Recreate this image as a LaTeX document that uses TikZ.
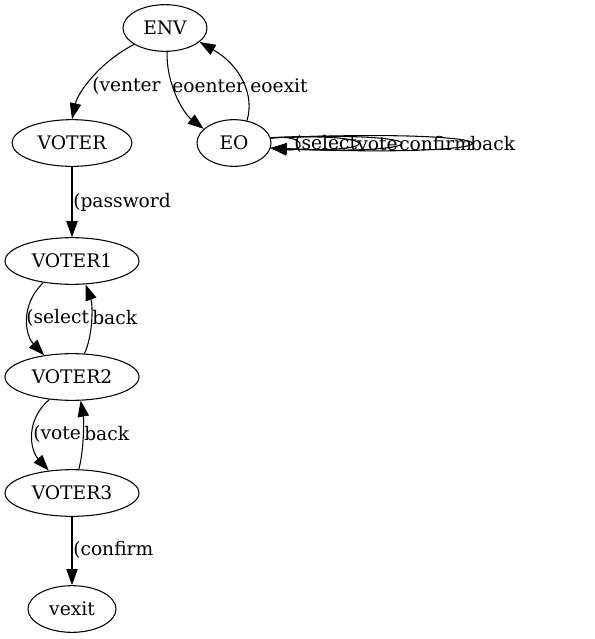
\documentclass[tikz,border=0pt]{standalone}
\usepackage{fontspec}
\setmainfont{DejaVu Serif}
\usetikzlibrary{arrows.meta,shapes.geometric}
\begin{document}
\begin{tikzpicture}[x=0.75pt,y=-0.75pt,
  st/.style={draw,ellipse,line width=0.8pt,inner sep=0pt,minimum height=35pt,font=\fontsize{14}{16}\selectfont},
  lbl/.style={anchor=west,inner sep=0pt,font=\fontsize{14}{16}\selectfont},
  arr/.style={line width=0.8pt,-{Triangle[length=12pt,width=8.5pt]}}]
\useasboundingbox (0,0) rectangle (595,639);
\node[st,minimum width=63pt] (ENV) at (165,28) {ENV};
\node[st,minimum width=90pt] (VOTER) at (72,143) {VOTER};
\node[st,minimum width=55.5pt] (EO) at (234,143) {EO};
\node[st,minimum width=100.5pt] (VOTER1) at (72,261) {VOTER1};
\node[st,minimum width=100.5pt] (VOTER2) at (72,377) {VOTER2};
\node[st,minimum width=100.5pt] (VOTER3) at (72,493) {VOTER3};
\node[st,minimum width=66pt] (vexit) at (72,609) {vexit};

\draw[arr] (ENV.208) .. controls (100,62) and (78,92) .. (VOTER.north);
\node[lbl] (l1) at (92,86) {(venter};
\draw[arr] (ENV.275) .. controls (166,82) and (182,112) .. (EO.155);
\node[lbl] (l2) at (172,86) {eoenter};
\draw[arr] (EO.60) .. controls (255,95) and (240,65) .. (ENV.338);
\node[lbl] (l3) at (250,86) {eoexit};

\draw[arr] (VOTER) -- (VOTER1);
\node[lbl] (l4) at (73,202) {(password};

\draw[arr] (VOTER1.217) .. controls (20,305) and (25,335) .. (VOTER2.142);
\node[lbl] (l5) at (26,318) {(select};
\draw[arr] (VOTER2.62) .. controls (93,335) and (93,305) .. (VOTER1.300);
\node[lbl] (l6) at (92,318) {back};

\draw[arr] (VOTER2.225) .. controls (25,420) and (30,450) .. (VOTER3.136);
\node[lbl] (l7) at (33,434) {(vote};
\draw[arr] (VOTER3.74) .. controls (84,450) and (84,420) .. (VOTER2.290);
\node[lbl] (l8) at (84,434) {back};

\draw[arr] (VOTER3) -- (vexit);
\node[lbl] (l9) at (73,550) {(confirm};

\draw[arr] (EO.8) .. controls (307,134) and (307,152) .. (EO.352);
\draw[arr] (EO.8) .. controls (386,132) and (386,154) .. (EO.352);
\draw[arr] (EO.8) .. controls (443,130) and (443,156) .. (EO.352);
\draw[arr] (EO.8) .. controls (537,127) and (537,159) .. (EO.352);
\node[lbl] (s1) at (294,144) {(select};
\node[lbl] (s2) at (357,144) {vote};
\node[lbl] (s3) at (399,144) {confirm};
\node[lbl] (s4) at (470,144) {back};
\end{tikzpicture}
\end{document}
